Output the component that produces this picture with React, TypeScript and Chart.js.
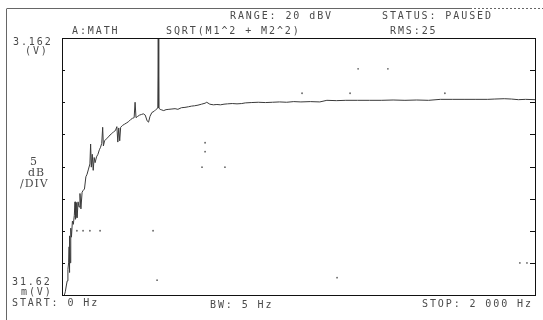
import React, { useEffect, useRef } from "react";
import { Chart, registerables } from "chart.js";

Chart.register(...registerables);

// Spectrum trace: frequency (Hz) and level (dBV)
const traceHz = [
  10, 14, 18, 22, 25, 28, 30, 31, 33, 35, 37, 40, 44, 48, 52, 55, 57, 60, 62, 64,
  68, 72, 76, 80, 85, 90, 95, 101, 106, 112, 118, 121, 124, 128, 132, 136, 140, 146, 152, 158,
  163, 168, 172, 175, 180, 188, 196, 203, 210, 218, 226, 232, 236, 240, 244, 248, 256, 265, 274, 282,
  290, 298, 305, 309, 313, 320, 328, 336, 344, 352, 360, 366, 372, 380, 390, 398, 405, 407, 409, 415,
  422, 430, 440, 452, 465, 478, 490, 505, 520, 535, 548, 560, 575, 590, 605, 612, 625, 640, 655, 670,
  685, 700, 720, 740, 760, 775, 800, 830, 860, 890, 920, 950, 980, 1010, 1050, 1090, 1120, 1160, 1200, 1250,
  1300, 1350, 1400, 1450, 1500, 1550, 1600, 1650, 1700, 1750, 1800, 1830, 1870, 1900, 1930, 1960, 2000,
];
const traceDb = [
  -30, -29.5, -28.6, -27.8, -26, -25, -22.5, -26.5, -20.8, -25, -19.6, -21, -18.5, -19, -17.6, -15.5, -18.2, -17.8, -15.6, -18,
  -15.5, -16.3, -14.2, -16.6, -14.0, -13.7, -13.5, -11.6, -11.2, -10.4, -9.6, -6.5, -10.1, -8.1, -10.6, -8.6, -9.4, -8.5, -8.1, -7.4,
  -7.0, -6.4, -3.9, -6.8, -6.0, -5.7, -5.4, -5.1, -4.9, -4.6, -4.4, -3.8, -6.2, -4.0, -6.0, -3.9, -3.6, -3.4, -3.2, -3.0,
  -2.7, -2.5, -2.4, 0.0, -2.4, -2.2, -2.0, -1.9, -1.8, -2.0, -2.9, -3.1, -2.2, -1.6, -1.4, -1.1, -0.9, 10, -0.9, -1.1,
  -1.2, -1.3, -1.15, -1.1, -1.05, -1.0, -1.1, -0.85, -0.8, -0.7, -0.6, -0.55, -0.45, -0.3, -0.15, 0.0, -0.3, -0.4, -0.35, -0.4,
  -0.3, -0.25, -0.2, -0.25, -0.2, -0.1, -0.05, 0.0, -0.05, 0.0, 0.05, 0.0, 0.1, 0.05, 0.1, 0.05, 0.3, 0.25, 0.3, 0.3,
  0.3, 0.3, 0.35, 0.3, 0.35, 0.3, 0.45, 0.45, 0.45, 0.45, 0.45, 0.5, 0.55, 0.5, 0.4, 0.45, 0.4,
];

// Stray display dots
const dotHz = [63, 89, 118, 161, 385, 402, 605, 605, 592, 689, 1252, 1378, 1015, 1218, 1619, 1163, 1936, 1966];
const dotDb = [-20, -20, -20, -20, -20, -27.7, -6.3, -7.7, -10.1, -10.1, 5.2, 5.2, 1.4, 1.4, 1.4, -27.3, -25, -25];

// Axis range
const freqMin = 0;
const freqMax = 2000;
const dbMin = -30;
const dbMax = 10;
const dbPerDiv = 5;

// Screen annotations
const headerLabels = ["RANGE: 20 dBV", "STATUS: PAUSED", "A:MATH", "SQRT(M1^2 + M2^2)", "RMS:25"];
const leftLabels = ["3.162", "(V)", "5", "dB", "/DIV", "31.62", "m(V)"];
const footerLabels = ["START: 0 Hz", "BW: 5 Hz", "STOP: 2 000 Hz"];

export default function App() {
  const ref = useRef<HTMLCanvasElement>(null);

  useEffect(() => {
    const canvas = ref.current!;
    const ink = "#4a4a4a";

    const screenPlugin = {
      id: "screen",
      afterDraw(chart: any) {
        const ctx = chart.ctx as CanvasRenderingContext2D;
        const a = chart.chartArea;
        const ys = chart.scales.y;
        ctx.save();
        // outer scan frame
        ctx.strokeStyle = "#666";
        ctx.lineWidth = 1;
        ctx.beginPath();
        ctx.moveTo(6.5, 9);
        ctx.lineTo(6.5, 320);
        ctx.moveTo(6.5, 8.5);
        ctx.lineTo(470, 8.5);
        ctx.stroke();
        ctx.setLineDash([2, 2]);
        ctx.beginPath();
        ctx.moveTo(470, 8.5);
        ctx.lineTo(543, 8.5);
        ctx.stroke();
        ctx.setLineDash([]);
        // plot border
        ctx.strokeStyle = "#111";
        ctx.strokeRect(Math.round(a.left) + 0.5, Math.round(a.top) + 0.5, Math.round(a.right - a.left), Math.round(a.bottom - a.top));
        // inward ticks
        ctx.beginPath();
        for (let v = dbMin + dbPerDiv; v < dbMax; v += dbPerDiv) {
          const y = Math.round(ys.getPixelForValue(v)) + 0.5;
          ctx.moveTo(a.left, y);
          ctx.lineTo(a.left + 3, y);
          ctx.moveTo(a.right, y);
          ctx.lineTo(a.right - 5, y);
        }
        ctx.stroke();

        // text
        ctx.fillStyle = ink;
        ctx.textBaseline = "middle";
        ctx.font = "10px 'DejaVu Sans Mono', monospace";
        try { (ctx as any).letterSpacing = "1.9px"; } catch (e) {}
        const put = (t: string, x: number, y: number) => ctx.fillText(t, x, y);
        put(headerLabels[0], 230, 16);
        put(headerLabels[1], 382, 16);
        put(headerLabels[2], 72, 31);
        put(headerLabels[3], 166, 31);
        put(headerLabels[4], 390, 31);
        put(leftLabels[0], 13, 42);
        put(leftLabels[1], 25, 51);
        put(leftLabels[5], 12, 282);
        put(leftLabels[6], 21, 292);
        put(footerLabels[0], 12, 303);
        put(footerLabels[1], 210, 305);
        put(footerLabels[2], 422, 304);
        try { (ctx as any).letterSpacing = "1px"; } catch (e) {}
        ctx.font = "11px 'DejaVu Serif', serif";
        put(leftLabels[2], 30, 162);
        put(leftLabels[3], 28, 173);
        put(leftLabels[4], 20, 184);
        ctx.restore();
      },
    };

    const chart = new Chart(canvas, {
      type: "line",
      data: {
        datasets: [
          {
            data: traceHz.map((f, i) => ({ x: f, y: traceDb[i] })),
            borderColor: "#3a3a3a",
            borderWidth: 1,
            pointRadius: 0,
            tension: 0,
          },
          {
            type: "scatter",
            data: dotHz.map((f, i) => ({ x: f, y: dotDb[i] })),
            backgroundColor: "#666",
            borderWidth: 0,
            pointRadius: 0.9,
            showLine: false,
          } as any,
        ],
      },
      options: {
        animation: false,
        responsive: false,
        devicePixelRatio: 1,
        layout: { padding: { left: 62, right: 8, top: 38, bottom: 25 } },
        plugins: { legend: { display: false }, tooltip: { enabled: false }, title: { display: false } },
        scales: {
          x: { type: "linear", min: freqMin, max: freqMax, display: false },
          y: { type: "linear", min: dbMin, max: dbMax, display: false },
        },
      },
      plugins: [screenPlugin],
    });
    return () => chart.destroy();
  }, []);

  return (
    <div style={{ position: "fixed", left: 0, top: 0, width: 543, height: 320, background: "#fff" }}>
      <canvas ref={ref} width={543} height={320} />
    </div>
  );
}
